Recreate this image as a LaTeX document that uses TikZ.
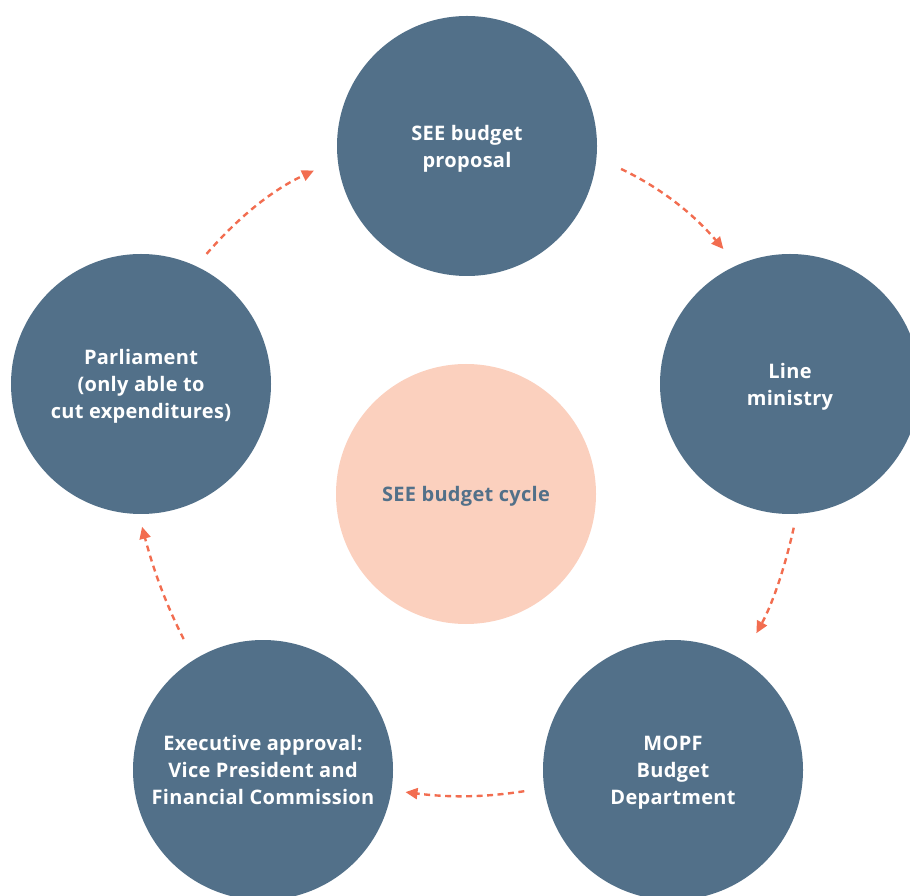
\documentclass[tikz,border=0pt]{standalone}
\usepackage{fontspec}
\setmainfont{Open Sans}[LetterSpace=1.5]
\usepackage{tikz}
\usetikzlibrary{arrows.meta}
\usetikzlibrary{positioning}
\definecolor{slate}{HTML}{527089}
\definecolor{peach}{HTML}{FBD0BE}
\definecolor{coral}{HTML}{F26D50}
\begin{document}
\begin{tikzpicture}[x=1pt,y=1pt,
  stage/.style={circle,fill=slate,text=white,minimum size=260pt,inner sep=0pt,text depth=0pt,align=center,font=\fontsize{20}{27}\selectfont\bfseries},
  hub/.style={stage,fill=peach,text=slate},
  flow/.style={draw=coral,line width=2.4pt,dash pattern=on 6pt off 4.5pt,-{Triangle[length=12pt,width=11pt]}}]
  \useasboundingbox (0,0) rectangle (910,895);
  \node[stage] (prop) at (467,749) {SEE budget\\proposal};
  \node[stage] (line) at (790,511) {Line\\ministry};
  \node[stage] (mopf) at (673,125) {MOPF\\Budget\\Department};
  \node[stage] (exec) at (263,125) {Executive approval:\\Vice President and\\Financial Commission};
  \node[stage] (parl) at (141,511) {Parliament\\(only able to\\cut expenditures)};
  \node[hub] (cycle) at (466,401) {SEE budget cycle};
  \draw[flow,shorten <=16pt,shorten >=26pt](parl.65) to[bend left=12] (prop.186);
  \draw[flow,shorten <=27pt,shorten >=21pt](prop.-5) to[bend left=12] (line.114);
  \draw[flow,shorten <=14pt,shorten >=30pt](line.-87) to[bend left=8] (mopf.58);
  \draw[flow,shorten <=20pt,shorten >=14pt](mopf.188) to[bend left=8] (exec.-9);
  \draw[flow,shorten <=23pt,shorten >=13pt](exec.122) to[bend left=6] (parl.-91);
\end{tikzpicture}
\end{document}
